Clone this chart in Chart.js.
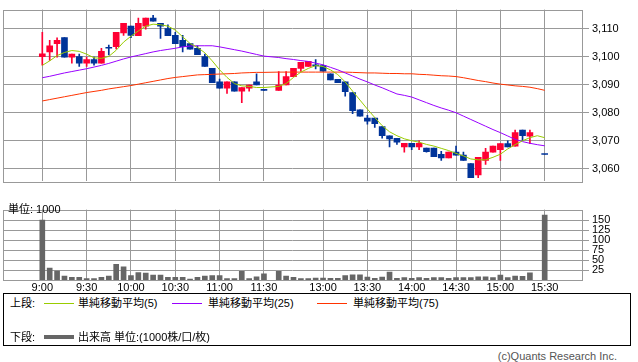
<!DOCTYPE html>
<html>
<head>
<meta charset="utf-8">
<script src="https://cdn.jsdelivr.net/npm/chart.js@4"></script>
<style>
  body { margin: 0; width: 638px; height: 362px; background: #fff; position: relative; overflow: hidden;
         font-family: "Liberation Sans", "Noto Sans CJK JP", sans-serif; color: #000; }
  canvas { position: absolute; left: 0; }
  #price { top: 0; }
  #vol   { top: 200px; }
  .abs   { position: absolute; white-space: nowrap; font-size: 11px; line-height: 12px; }
  .sw    { position: absolute; height: 1px; width: 30px; }
  #legend { position: absolute; left: 3px; top: 293px; width: 628px; height: 53px; border: 1px solid #000; box-sizing: border-box; }
</style>
</head>
<body>
<canvas id="price" width="638" height="191"></canvas>
<canvas id="vol" width="638" height="92"></canvas>
<div class="abs" style="left:8px;top:203px">単位: 1000</div>

<div id="legend">
  <div class="abs" style="left:6px;top:3px">上段:</div>
  <div class="sw" style="left:40px;top:9px;background:#99cc00"></div>
  <div class="abs" style="left:74px;top:3px">単純移動平均(5)</div>
  <div class="sw" style="left:168px;top:9px;background:#9900ff"></div>
  <div class="abs" style="left:204px;top:3px">単純移動平均(25)</div>
  <div class="sw" style="left:313px;top:9px;background:#ff3300"></div>
  <div class="abs" style="left:349px;top:3px">単純移動平均(75)</div>
  <div class="abs" style="left:6px;top:37px">下段:</div>
  <div class="sw" style="left:40px;top:41px;height:4px;background:#666"></div>
  <div class="abs" style="left:74px;top:37px">出来高 単位:(1000株/口/枚)</div>
</div>
<div class="abs" style="right:21px;top:350px;color:#555">(c)Quants Research Inc.</div>

<script>
// ── Data (5-minute bars, index 0 = 9:00; 31 = lunch gap, 67 = closing-auction gap) ──
const X_TICK_POS    = [0, 6, 12, 18, 24, 30, 38, 44, 50, 56, 62, 68];
const X_TICK_LABELS = ['9:00', '9:30', '10:00', '10:30', '11:00', '11:30',
                       '13:00', '13:30', '14:00', '14:30', '15:00', '15:30'];
const PRICE_TICKS   = [3060, 3070, 3080, 3090, 3100, 3110];
const VOL_TICKS     = [25, 50, 75, 100, 125, 150];

const OPEN = [
  3100, 3101.7, 3104.6, 3106.8, 3099.8, 3100, 3097.7, 3099, 3097.7, 3103,
  3103.6, 3108.5, 3110.9, 3107.5, 3110.9, 3113.8, 3111.9, 3110, 3107.6, 3105.8,
  3104.7, 3103, 3100, 3095.8, 3091, 3088.8, 3091, 3087.7, 3088.8, 3091,
  3088, null, 3088, 3089.9, 3092.9, 3095.8, 3096.5, 3096.7, 3096.8, 3093.9,
  3091.9, 3091, 3087.2, 3081, 3078.1, 3078.1, 3075.1, 3071.8, 3070.9, 3067.8,
  3069.1, 3067.8, 3067.4, 3067.4, 3065.2, 3063.9, 3066, 3064.9, 3061.9, 3057.8,
  3063, 3065.9, 3066.8, 3069, 3068.1, 3073.8, 3071.6, null, 3065.1
];
const HIGH = [
  3108.7, 3105.8, 3106.7, 3106.8, 3100.9, 3100.9, 3099.9, 3099.9, 3103, 3104.1,
  3108.7, 3111.9, 3110.9, 3113.8, 3113.8, 3114.8, 3111.9, 3111.4, 3108.7, 3107.6,
  3104.7, 3103.9, 3100.9, 3095.8, 3092, 3091, 3091, 3089, 3089.9, 3093.9,
  3088, null, 3094.7, 3094.7, 3095.8, 3098, 3098.3, 3099, 3097, 3093.9,
  3091.9, 3091, 3087.2, 3081, 3079.1, 3078.1, 3075.1, 3071.8, 3070.9, 3069.1,
  3069.1, 3070, 3067.4, 3067.4, 3066.2, 3066, 3068.1, 3066, 3061.9, 3064.1,
  3067.3, 3068.1, 3069, 3070, 3073.8, 3073.8, 3073.8, null, 3065.1
];
const LOW = [
  3097, 3098.7, 3099.8, 3099.8, 3097.7, 3096.5, 3096.5, 3097, 3097.7, 3100.6,
  3102.8, 3107.6, 3106.8, 3107.5, 3109.8, 3112.7, 3106.5, 3107.5, 3104.6, 3101.7,
  3102.7, 3100.7, 3096.5, 3090.7, 3088.8, 3086.9, 3087.7, 3083.6, 3087.7, 3089.9,
  3088, null, 3088, 3089.9, 3092.9, 3094.7, 3096.5, 3095.6, 3094.8, 3091.7,
  3090.7, 3085.9, 3079.7, 3078.8, 3075.9, 3074.8, 3070.9, 3067.8, 3068.7, 3065.9,
  3066.8, 3066.8, 3065.9, 3064.3, 3063, 3063.9, 3064.9, 3063, 3056.8, 3056.8,
  3061.6, 3065.9, 3063, 3067.8, 3068.1, 3070, 3069, null, 3065.1
];
const CLOSE = [
  3101, 3103.9, 3105.8, 3099.8, 3100.9, 3097.7, 3099, 3097.7, 3101.9, 3103,
  3108.7, 3111.9, 3107.6, 3111.9, 3113.8, 3112.7, 3110.9, 3107.5, 3104.6, 3103.6,
  3102.7, 3100.7, 3096.5, 3090.7, 3088.8, 3091, 3087.7, 3089, 3089.9, 3089.9,
  3088, null, 3089.9, 3092.9, 3095.8, 3098, 3098.3, 3096.7, 3094.8, 3091.7,
  3090.7, 3087.5, 3080.7, 3078.8, 3077, 3076.1, 3071.8, 3070.7, 3069.5, 3069.1,
  3067.8, 3069.1, 3066.1, 3064.3, 3063.9, 3066, 3064.9, 3063, 3056.8, 3064.1,
  3066, 3068.1, 3069, 3067.8, 3072.9, 3071.8, 3072.9, null, 3065.1
];
const VOLUME = [
  150, 29.5, 22, 9.6, 6.6, 6.6, 3.7, 3.7, 6.6, 9.6,
  39, 33, 11, 18.4, 17, 12.5, 12.5, 6.6, 6.6, 6.6,
  2.2, 6.6, 9.6, 11, 11, 3.7, 3.7, 21.4, 3.7, 8,
  15.5, null, 21.4, 9.6, 6.6, 3.7, 3.7, 5, 5, 4,
  4, 11, 13, 13, 7, 4, 7, 20, 4, 6,
  4, 6, 4, 6, 6, 4, 6, 6, 6, 8,
  8, 6, 12, 6, 10, 9, 18, null, 162
];
const MA5 = [
  3096.9, 3098.5, 3100.4, 3101.5, 3102.2, 3101.9, 3100.9, 3099.6, 3099.4, 3100.1,
  3102.3, 3105.2, 3107.3, 3109.2, 3110.9, 3111.6, 3111.4, 3110.9, 3109.5, 3107.1,
  3104.7, 3103.3, 3101.4, 3098.5, 3095.3, 3092.6, 3090.4, 3089.6, 3089.4, 3089.0,
  3089.0, null, 3089.4, 3090.4, 3092.6, 3094.5, 3095.8, 3096.8, 3096.5, 3095.3,
  3093.6, 3091.0, 3087.7, 3084.5, 3081.3, 3078.3, 3075.4, 3073.2, 3071.8, 3070.7,
  3070.0, 3069.5, 3068.7, 3068.1, 3067.3, 3066.5, 3065.5, 3064.6, 3063.5, 3063.2,
  3063.2, 3064.1, 3065.2, 3067.1, 3068.6, 3070.0, 3071.1, 3071.8, 3071.1
];
const MA25 = [
  3092.5, 3093.0, 3093.6, 3094.2, 3094.7, 3095.2, 3095.7, 3096.3, 3096.9, 3097.6,
  3098.4, 3099.2, 3099.9, 3100.5, 3101.1, 3101.7, 3102.2, 3102.6, 3103.0, 3103.5,
  3103.8, 3103.9, 3103.9, 3103.9, 3103.5, 3103.0, 3102.5, 3102.0, 3101.4, 3100.8,
  3100.2, null, 3099.7, 3099.3, 3099.0, 3098.6, 3098.3, 3097.7, 3097.1, 3096.2,
  3095.3, 3094.2, 3093.1, 3092.0, 3091.0, 3089.9, 3088.9, 3087.8, 3086.7, 3086.2,
  3085.6, 3084.6, 3083.6, 3082.6, 3081.7, 3080.9, 3080.0, 3078.8, 3077.6, 3076.4,
  3075.2, 3074.0, 3072.9, 3071.7, 3070.5, 3069.7, 3069.1, 3068.6, 3068.2
];
const MA75 = [
  3084.2, 3084.7, 3085.2, 3085.7, 3086.2, 3086.7, 3087.2, 3087.6, 3088.0, 3088.5,
  3088.9, 3089.3, 3089.7, 3090.2, 3090.7, 3091.2, 3091.7, 3092.2, 3092.6, 3092.9,
  3093.2, 3093.5, 3093.6, 3093.7, 3093.8, 3093.9, 3094.0, 3094.2, 3094.3, 3094.4,
  3094.4, null, 3094.5, 3094.5, 3094.5, 3094.5, 3094.5, 3094.5, 3094.5, 3094.5,
  3094.5, 3094.5, 3094.4, 3094.3, 3094.2, 3094.2, 3094.1, 3094.0, 3094.0, 3093.9,
  3093.9, 3093.7, 3093.6, 3093.4, 3093.2, 3093.1, 3092.9, 3092.5, 3092.0, 3091.5,
  3091.1, 3090.6, 3090.2, 3089.9, 3089.6, 3089.4, 3089.1, 3088.6, 3088.0
];

(function () {
  'use strict';

  // ── Look ───────────────────────────────────────────────────────────
  const UP_COLOR   = '#ff0033';
  const DOWN_COLOR = '#003399';
  const GRID_COLOR = '#999999';
  const VOL_COLOR  = '#666666';
  const TICK_FONT  = { family: '"Liberation Sans", sans-serif', size: 11 };

  const X_MIN = -5.32, X_MAX = 73.05;           // plot edges, in bar slots
  const PRICE_MIN = 3055.5, PRICE_MAX = 3116.8;
  const VOL_MAX = 176;

  // ── Helpers ────────────────────────────────────────────────────────
  const pts = arr => arr.map((v, i) => ({ x: i, y: v })).filter(p => p.y != null);
  const isUp = i => CLOSE[i] > OPEN[i];
  const candleIdx = OPEN.map((v, i) => i).filter(i => OPEN[i] != null);

  const framePlugin = {
    id: 'frame',
    beforeDatasetsDraw(chart) {
      const { ctx, chartArea: a } = chart;
      ctx.save();
      ctx.strokeStyle = GRID_COLOR;
      ctx.lineWidth = 1;
      ctx.strokeRect(Math.round(a.left) + 0.5, Math.round(a.top) + 0.5,
                     Math.round(a.right - a.left), Math.round(a.bottom - a.top));
      ctx.restore();
    },
  };

  function xScale(showLabels) {
    return {
      type: 'linear', min: X_MIN, max: X_MAX, offset: false,
      afterBuildTicks: s => { s.ticks = X_TICK_POS.map(v => ({ value: v })); },
      afterFit: s => { s.height = showLabels ? 12 : 0; },
      ticks: {
        display: showLabels, font: TICK_FONT, color: '#000', padding: 1, maxRotation: 0,
        autoSkip: false,
        callback: v => X_TICK_LABELS[X_TICK_POS.indexOf(v)] ?? '',
      },
      grid: { color: GRID_COLOR, drawTicks: false, offset: false },
      border: { display: false },
    };
  }

  function yScale(min, max, tickVals, fmt) {
    return {
      position: 'right', min, max,
      afterBuildTicks: s => { s.ticks = tickVals.map(v => ({ value: v })); },
      afterFit: s => { s.width = 56; },
      ticks: { font: TICK_FONT, color: '#000', padding: 3, autoSkip: false, callback: fmt },
      grid: { color: GRID_COLOR, tickLength: 7 },
      border: { display: false },
    };
  }

  const common = {
    responsive: false,
    animation: false,
    events: [],
    plugins: { legend: { display: false }, tooltip: { enabled: false } },
  };

  // ── Price panel ────────────────────────────────────────────────────
  new Chart(document.getElementById('price'), {
    type: 'bar',
    data: {
      datasets: [
        { type: 'line', data: pts(MA5),  borderColor: '#99cc00', borderWidth: 1, pointRadius: 0, spanGaps: true, order: 0 },
        { type: 'line', data: pts(MA25), borderColor: '#9900ff', borderWidth: 1, pointRadius: 0, spanGaps: true, order: 0 },
        { type: 'line', data: pts(MA75), borderColor: '#ff3300', borderWidth: 1, pointRadius: 0, spanGaps: true, order: 0 },
        {
          data: candleIdx.map(i => ({ x: i, y: [OPEN[i], CLOSE[i]] })),
          backgroundColor: c => isUp(c.raw.x) ? UP_COLOR : DOWN_COLOR,
          barThickness: 6, minBarLength: 1, grouped: false, order: 1,
        },
        {
          data: candleIdx.map(i => ({ x: i, y: [LOW[i], HIGH[i]] })),
          backgroundColor: c => isUp(c.raw.x) ? UP_COLOR : DOWN_COLOR,
          barThickness: 1, grouped: false, order: 2,
        },
      ],
    },
    options: {
      ...common,
      layout: { padding: { left: 3, top: 0, bottom: 1, right: 0 } },
      scales: {
        x: xScale(false),
        y: yScale(PRICE_MIN, PRICE_MAX, PRICE_TICKS, v => v.toLocaleString('en-US')),
      },
    },
    plugins: [framePlugin],
  });

  // ── Volume panel ───────────────────────────────────────────────────
  new Chart(document.getElementById('vol'), {
    type: 'bar',
    data: {
      datasets: [{
        data: pts(VOLUME),
        backgroundColor: VOL_COLOR,
        barThickness: 5, grouped: false,
      }],
    },
    options: {
      ...common,
      layout: { padding: { left: 3, top: 0, bottom: 0, right: 0 } },
      scales: {
        x: xScale(true),
        y: yScale(0, VOL_MAX, VOL_TICKS, v => String(v)),
      },
    },
    plugins: [framePlugin],
  });
})();
</script>
</body>
</html>
